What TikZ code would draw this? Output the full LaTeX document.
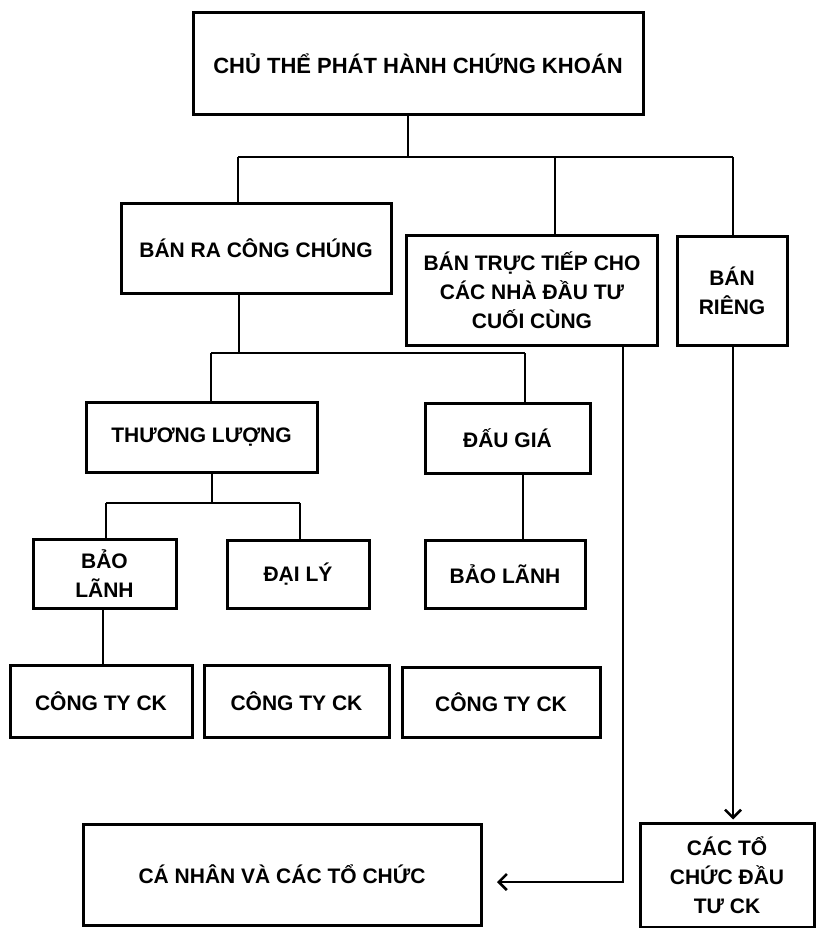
\documentclass[tikz,border=0pt]{standalone}
\usepackage{fontspec}
\setmainfont{Liberation Sans}
\usetikzlibrary{arrows.meta}
\begin{document}
\begin{tikzpicture}[x=1pt,y=-1pt,
 box/.style={draw,line width=3pt,inner sep=0pt,align=center,font=\bfseries\fontsize{21}{29}\selectfont},
 conn/.style={line width=2.6pt},
 arr/.style={conn,-{Straight Barb[length=8pt,width=16pt]}}]
\useasboundingbox (0,0) rectangle (816,928);
\fill[white] (0,0) rectangle (816,928);

\node[box,minimum width=450pt,minimum height=102pt,font=\bfseries\fontsize{22}{29}\selectfont] (top) at (418,64) {CHỦ THỂ PHÁT HÀNH CHỨNG KHOÁN};
\node[box,minimum width=270pt,minimum height=90pt] (banra) at (256,248) {BÁN RA CÔNG CHÚNG};
\node[box,minimum width=251pt,minimum height=110pt] (tructiep) at (532,290) {BÁN TRỰC TIẾP CHO\\CÁC NHÀ ĐẦU TƯ\\CUỐI CÙNG};
\node[box,minimum width=110pt,minimum height=109pt] (rieng) at (732,291) {BÁN\\RIÊNG};
\node[box,minimum width=231pt,minimum height=70pt] (thuong) at (201.5,437) {THƯƠNG LƯỢNG};
\node[box,minimum width=165pt,minimum height=70pt] (daugia) at (507.5,438) {ĐẤU GIÁ};
\node[box,minimum width=143pt,minimum height=69pt] (baolanh1) at (104.5,573.5) {BẢO\\LÃNH};
\node[box,minimum width=142pt,minimum height=68pt] (daily) at (298,574) {ĐẠI LÝ};
\node[box,minimum width=160pt,minimum height=68pt] (baolanh2) at (505,574) {BẢO LÃNH};
\node[box,minimum width=182pt,minimum height=72pt] (ck1) at (101,701) {CÔNG TY CK};
\node[box,minimum width=185pt,minimum height=72pt] (ck2) at (296.5,701) {CÔNG TY CK};
\node[box,minimum width=198pt,minimum height=70pt] (ck3) at (501,702) {CÔNG TY CK};
\node[box,minimum width=398pt,minimum height=101pt] (canhan) at (282,874.5) {CÁ NHÂN VÀ CÁC TỔ CHỨC};
\node[box,minimum width=174pt,minimum height=104pt] (cacto) at (727,875) {CÁC TỔ\\CHỨC ĐẦU\\TƯ CK};

\coordinate (a0) at (408,157);
\coordinate (aL) at (238,157);
\coordinate (aM) at (555,157);
\coordinate (aR) at (733,157);
\draw[conn] (a0 |- top.south) -- (a0);
\draw[conn] (aL) -- (aR);
\draw[conn] (aL) -- (aL |- banra.north);
\draw[conn] (aM) -- (aM |- tructiep.north);
\draw[conn] (aR) -- (aR |- rieng.north);

\coordinate (b0) at (239,353);
\coordinate (bL) at (211,353);
\coordinate (bR) at (525,353);
\draw[conn] (b0 |- banra.south) -- (b0);
\draw[conn] (bL) -- (bR);
\draw[conn] (bL) -- (bL |- thuong.north);
\draw[conn] (bR) -- (bR |- daugia.north);

\coordinate (c0) at (212,503);
\coordinate (cL) at (106,503);
\coordinate (cR) at (300,503);
\draw[conn] (c0 |- thuong.south) -- (c0);
\draw[conn] (cL) -- (cR);
\draw[conn] (cL) -- (cL |- baolanh1.north);
\draw[conn] (cR) -- (cR |- daily.north);

\coordinate (d0) at (523,0);
\draw[conn] (d0 |- daugia.south) -- (d0 |- baolanh2.north);
\coordinate (e0) at (103,0);
\draw[conn] (e0 |- baolanh1.south) -- (e0 |- ck1.north);

\coordinate (f0) at (623,882);
\coordinate (f1) at (497,882);
\draw[arr] (f0 |- tructiep.south) -- (f0) -- (f1);
\coordinate (g0) at (733,0);
\draw[arr,shorten >=2pt] (g0 |- rieng.south) -- (g0 |- cacto.north);
\end{tikzpicture}
\end{document}
